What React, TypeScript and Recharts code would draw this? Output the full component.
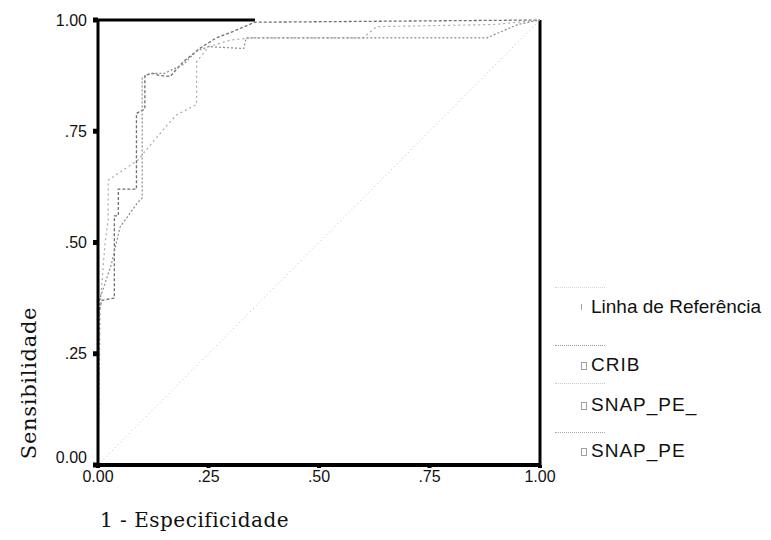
import React from 'react';
import { LineChart, Line, XAxis, YAxis, ReferenceLine } from 'recharts';

// Axis ticks and labels
const axisTicks = [0, 0.25, 0.5, 0.75, 1];
const tickLabels = ['0.00', '.25', '.50', '.75', '1.00'];
const xAxisTitle = '1 - Especificidade';
const yAxisTitle = 'Sensibilidade';

// Series names
const seriesNames = ['Linha de Referência', 'CRIB', 'SNAP_PE_', 'SNAP_PE'];

// Reference diagonal
const refFpr = [0, 1];
const refSens = [0, 1];

// CRIB (1 - especificidade, sensibilidade)
const cribFpr = [0, 0, 0.008, 0.037, 0.037, 0.046, 0.046, 0.087, 0.087, 0.106, 0.106, 0.125, 0.136, 0.163, 0.193, 0.23, 0.268, 0.305, 0.355, 1];
const cribSens = [0, 0.33, 0.37, 0.375, 0.56, 0.56, 0.62, 0.62, 0.79, 0.8, 0.876, 0.88, 0.876, 0.873, 0.906, 0.936, 0.96, 0.974, 0.995, 1];

// SNAP_PE_
const snap1Fpr = [0, 0.005, 0.016, 0.023, 0.023, 0.038, 0.09, 0.125, 0.16, 0.178, 0.223, 0.223, 0.25, 0.3, 0.35, 0.6, 0.63, 0.9, 1];
const snap1Sens = [0, 0.36, 0.5, 0.55, 0.64, 0.65, 0.685, 0.727, 0.768, 0.787, 0.81, 0.906, 0.94, 0.955, 0.96, 0.96, 0.985, 0.99, 1];

// SNAP_PE
const snap2Fpr = [0, 0.003, 0.03, 0.05, 0.09, 0.1, 0.1, 0.118, 0.15, 0.193, 0.223, 0.25, 0.33, 0.335, 0.88, 0.95, 1];
const snap2Sens = [0, 0.37, 0.45, 0.535, 0.59, 0.6, 0.87, 0.88, 0.88, 0.9, 0.93, 0.94, 0.936, 0.96, 0.96, 0.99, 1];

const zip = (xs: number[], ys: number[]) => xs.map((x, i) => ({ x, y: ys[i] }));

const refData = zip(refFpr, refSens);
const cribData = zip(cribFpr, cribSens);
const snap1Data = zip(snap1Fpr, snap1Sens);
const snap2Data = zip(snap2Fpr, snap2Sens);

const fmt = (v: number) => tickLabels[axisTicks.indexOf(v)] ?? String(v);

const legendTops = [280, 338, 376, 425];
const legendTextOffsets = [16, 16, 18, 15];
const legendSampleColors = ['#d6d6d6', '#9a9a9a', '#c8c8c8', '#a8a8a8'];

const LegendBox = () => (
  <div style={{ position: 'absolute', left: 553, top: 280, width: 218, height: 200 }}>
    {seriesNames.map((name, i) => (
      <div key={name} style={{ position: 'absolute', left: 0, top: legendTops[i] - 280, width: 218 }}>
        <div style={{ position: 'absolute', left: 2, top: 7, width: 50, borderTop: `1px dotted ${legendSampleColors[i]}` }} />
        <div
          style={{
            position: 'absolute',
            left: 28,
            top: legendTextOffsets[i] + 8,
            width: i === 0 ? 0 : 4,
            height: 6,
            border: i === 0 ? 'none' : '1px solid #a0a0a0',
            borderLeft: '1px solid #a0a0a0',
          }}
        />
        <div
          style={{
            position: 'absolute',
            left: 38,
            top: legendTextOffsets[i],
            fontFamily: 'Liberation Sans, Arial, sans-serif',
            fontSize: 19,
            letterSpacing: i === 0 ? 0 : 1,
            color: '#111',
            whiteSpace: 'nowrap',
            lineHeight: '22px',
          }}
        >
          {name}
        </div>
      </div>
    ))}
  </div>
);

const XTitle = (props: any) => {
  const vb = props.viewBox || { x: 98, y: 465 };
  return (
    <text
      x={vb.x + 2}
      y={vb.y + 62}
      fill="#111"
      fontSize={20}
      letterSpacing={0.5}
      fontFamily="DejaVu Serif, Liberation Serif, serif"
    >
      {xAxisTitle}
    </text>
  );
};

const YTitle = (props: any) => {
  const vb = props.viewBox || { x: 0, y: 20, height: 445 };
  const x = vb.x + 36;
  const y = vb.y + vb.height - 82;
  return (
    <text
      x={x}
      y={y}
      transform={`rotate(-90 ${x} ${y})`}
      textAnchor="middle"
      fill="#111"
      fontSize={21}
      letterSpacing={0.7}
      fontFamily="DejaVu Serif, Liberation Serif, serif"
    >
      {yAxisTitle}
    </text>
  );
};

const YTick = (props: any) => {
  const { x, y, payload } = props;
  const lift = payload.value === 0 ? -8 : 0;
  return (
    <text
      x={x - 4}
      y={y + lift}
      dy="0.355em"
      textAnchor="end"
      fill="#111"
      fontSize={16}
      fontFamily="Liberation Sans, Arial, sans-serif"
    >
      {fmt(payload.value)}
    </text>
  );
};

export default function App() {
  return (
    <div style={{ position: 'absolute', left: 0, top: 0, width: 771, height: 540, background: '#fff' }}>
      <LineChart width={771} height={540} margin={{ top: 20, right: 231, left: 0, bottom: 0 }}>
        <XAxis
          type="number"
          dataKey="x"
          domain={[0, 1]}
          ticks={axisTicks}
          tickFormatter={fmt}
          height={75}
          axisLine={{ stroke: '#000', strokeWidth: 4 }}
          tickLine={{ stroke: '#000', strokeWidth: 4 }}
          tickSize={3}
          tick={{ fill: '#111', fontSize: 16, fontFamily: 'Liberation Sans, Arial, sans-serif', dy: 1 }}
          label={{ content: <XTitle /> }}
        />
        <YAxis
          type="number"
          dataKey="y"
          domain={[0, 1]}
          ticks={axisTicks}
          tickFormatter={fmt}
          width={98}
          axisLine={{ stroke: '#000', strokeWidth: 3 }}
          tickLine={{ stroke: '#000', strokeWidth: 5 }}
          tickSize={5}
          tick={<YTick />}
          label={{ content: <YTitle /> }}
        />
        <ReferenceLine x={1} stroke="#000" strokeWidth={3} />
        <ReferenceLine segment={[{ x: 0, y: 1 }, { x: 0.355, y: 1 }]} stroke="#000" strokeWidth={3} />
        <Line
          data={refData}
          dataKey="y"
          name={seriesNames[0]}
          stroke="#bdbdbd"
          strokeWidth={1}
          strokeDasharray="1 3"
          dot={false}
          isAnimationActive={false}
        />
        <Line
          data={cribData}
          dataKey="y"
          name={seriesNames[1]}
          stroke="#6f6f6f"
          strokeWidth={1.3}
          strokeDasharray="3 2"
          dot={false}
          isAnimationActive={false}
        />
        <Line
          data={snap1Data}
          dataKey="y"
          name={seriesNames[2]}
          stroke="#a8a8a8"
          strokeWidth={1.2}
          strokeDasharray="2 3"
          dot={false}
          isAnimationActive={false}
        />
        <Line
          data={snap2Data}
          dataKey="y"
          name={seriesNames[3]}
          stroke="#8c8c8c"
          strokeWidth={1.2}
          strokeDasharray="2 2"
          dot={false}
          isAnimationActive={false}
        />
      </LineChart>
      <LegendBox />
    </div>
  );
}
